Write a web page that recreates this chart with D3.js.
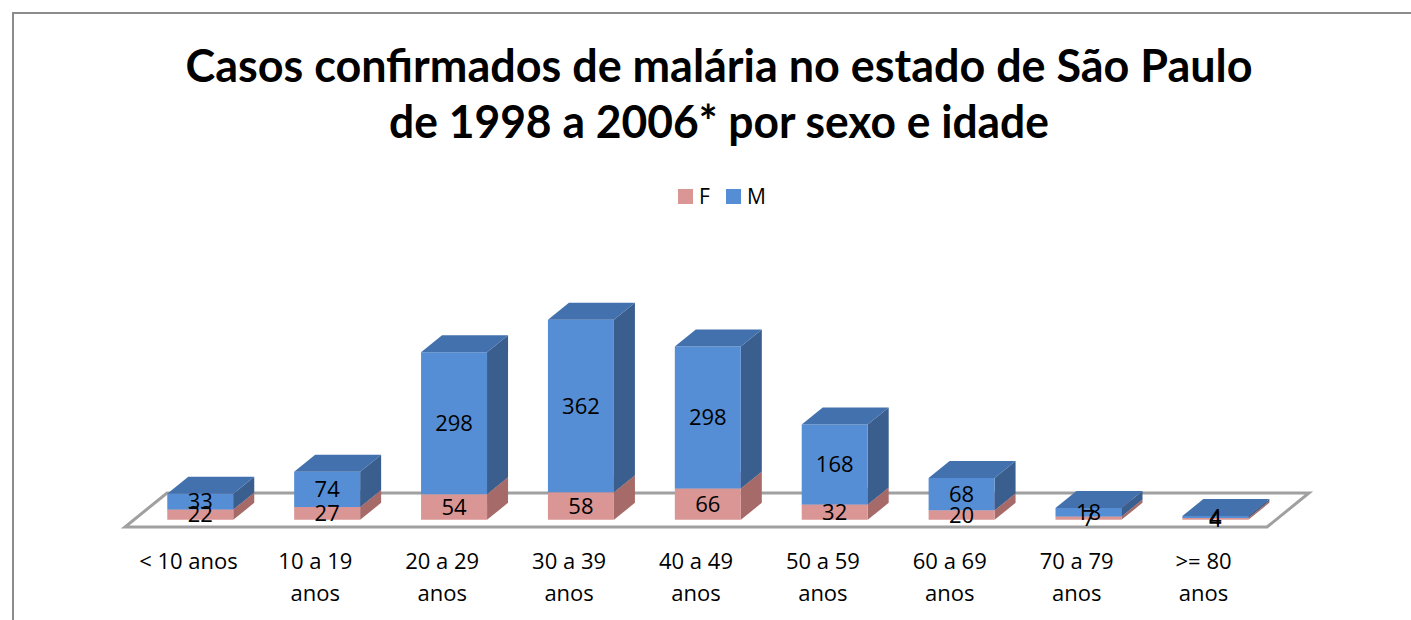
<!DOCTYPE html>
<html>
<head>
<meta charset="utf-8">
<script src="https://cdn.jsdelivr.net/npm/d3@7"></script>
<style>
  body { margin: 0; background: #fff; }
  text { font-family: "Open Sans", sans-serif; fill: #000; }
  .title { font-family: Lato, sans-serif; }
</style>
</head>
<body>
<div id="svg"></div>
<script>
/*
 * Chart values.
 */
var categories = ["< 10 anos", "10 a 19 anos", "20 a 29 anos", "30 a 39 anos",
                  "40 a 49 anos", "50 a 59 anos", "60 a 69 anos", "70 a 79 anos", ">= 80 anos"]
  , tickLines = [["< 10 anos"], ["10 a 19", "anos"], ["20 a 29", "anos"], ["30 a 39", "anos"],
                 ["40 a 49", "anos"], ["50 a 59", "anos"], ["60 a 69", "anos"], ["70 a 79", "anos"], [">= 80", "anos"]]
  , femValues = [22, 27, 54, 58, 66, 32, 20, 7, 4]
  , mascValues = [33, 74, 298, 362, 298, 168, 68, 18, 4]
  , seriesNames = ["F", "M"]
  , titleLines = ["Casos confirmados de malária no estado de São Paulo",
                  "de 1998 a 2006* por sexo e idade"];

var width = 1411
  , height = 620;

/*
 * Colours for each series: front, side and top faces.
 */
var faces = {
  F: { front: "#D99694", side: "#A66B69", top: "#C28583" },
  M: { front: "#558ED5", side: "#3A5F8F", top: "#4271AE" }
};

var svg = d3.select('#svg').append('svg')
  .attr('width', width)
  .attr('height', height);

// outer frame, only top and left edges show in the picture
svg.append('rect')
  .attr('x', 13).attr('y', 13)
  .attr('width', width + 20).attr('height', height + 20)
  .attr('fill', 'none')
  .attr('stroke', '#8C8C8C')
  .attr('stroke-width', 2);

/*
 * Title
 */
svg.append('g').selectAll('text')
  .data(titleLines)
  .enter().append('text')
  .attr('class', 'title')
  .attr('x', 719)
  .attr('y', function(d, i) { return 82 + i * 56; })
  .attr('text-anchor', 'middle')
  .style('font-size', '46px')
  .style('font-weight', 'bold')
  .text(function(d) { return d; })
  .each(function(d, i) {
    var target = i === 0 ? 1067 : 660;
    d3.select(this).attr('textLength', target).attr('lengthAdjust', 'spacingAndGlyphs');
  });

/*
 * Legend
 */
var legend = svg.append('g').selectAll('g')
  .data(seriesNames)
  .enter().append('g')
  .attr('transform', function(d, i) { return 'translate(' + (678 + i * 48) + ',189)'; });

legend.append('rect')
  .attr('width', 15).attr('height', 15)
  .attr('fill', function(d) { return faces[d].front; });

legend.append('text')
  .attr('x', 21).attr('y', 8)
  .attr('dy', '.35em')
  .style('font-size', '21px')
  .text(function(d) { return d; });

/*
 * Scales. The floor is a parallelogram, the depth
 * vector pushes things back and to the right.
 */
var x = d3.scaleBand()
  .domain(categories)
  .range([125, 1267]);

var y = d3.scaleLinear()
  .domain([0, 420])
  .range([0, 200]);

var depth = { dx: 42, dy: -34 }
  , floorY = 527
  , front = 0.21
  , back = 0.71
  , barWidth = x.bandwidth() * 0.52;

function pt(px, py, t) {
  return [px + depth.dx * t, py + depth.dy * t];
}

function poly(points) {
  return points.map(function(p) { return p.join(','); }).join(' ');
}

/*
 * Floor
 */
svg.append('polygon')
  .attr('points', poly([
    pt(x.range()[0], floorY, 0), pt(x.range()[1], floorY, 0),
    pt(x.range()[1], floorY, 1), pt(x.range()[0], floorY, 1)
  ]))
  .attr('fill', '#fff')
  .attr('stroke', '#A0A0A0')
  .attr('stroke-width', 3)
  .attr('stroke-linejoin', 'miter');

/*
 * Stacked segments, F below M.
 */
var segments = [];
categories.forEach(function(c, i) {
  segments.push({ cat: c, s: "F", y0: 0, y1: femValues[i] });
  segments.push({ cat: c, s: "M", y0: femValues[i], y1: femValues[i] + mascValues[i] });
});

var bars = svg.append('g');

segments.forEach(function(d) {
  var cx = x(d.cat) + x.bandwidth() / 2 + 3
    , x0 = cx - barWidth / 2
    , x1 = cx + barWidth / 2
    , b = floorY - y(d.y0)
    , t = floorY - y(d.y1)
    , g = bars.append('g');

  // side face
  g.append('polygon')
    .attr('points', poly([pt(x1, b, front), pt(x1, b, back), pt(x1, t, back), pt(x1, t, front)]))
    .attr('fill', faces[d.s].side);

  // front face
  g.append('polygon')
    .attr('points', poly([pt(x0, b, front), pt(x1, b, front), pt(x1, t, front), pt(x0, t, front)]))
    .attr('fill', faces[d.s].front);

  // top face
  g.append('polygon')
    .attr('points', poly([pt(x0, t, front), pt(x1, t, front), pt(x1, t, back), pt(x0, t, back)]))
    .attr('fill', faces[d.s].top);
});

/*
 * Data labels in the middle of each front face.
 */
svg.append('g').selectAll('text')
  .data(segments)
  .enter().append('text')
  .attr('x', function(d) { return pt(x(d.cat) + x.bandwidth() / 2 + 3, 0, front)[0]; })
  .attr('y', function(d) { return pt(0, floorY - y((d.y0 + d.y1) / 2), front)[1]; })
  .attr('dy', '.35em')
  .attr('text-anchor', 'middle')
  .style('font-size', '22px')
  .text(function(d) { return d.y1 - d.y0; });

/*
 * Category labels under the floor.
 */
var ticks = svg.append('g').selectAll('text')
  .data(categories)
  .enter().append('text')
  .attr('x', function(d) { return x(d) + x.bandwidth() / 2; })
  .attr('y', 569)
  .attr('text-anchor', 'middle')
  .style('font-size', '22px');

ticks.selectAll('tspan')
  .data(function(d, i) { return tickLines[i]; })
  .enter().append('tspan')
  .attr('x', function() { return d3.select(this.parentNode).attr('x'); })
  .attr('dy', function(d, i) { return i === 0 ? 0 : 32; })
  .text(function(d) { return d; });
</script>
</body>
</html>
